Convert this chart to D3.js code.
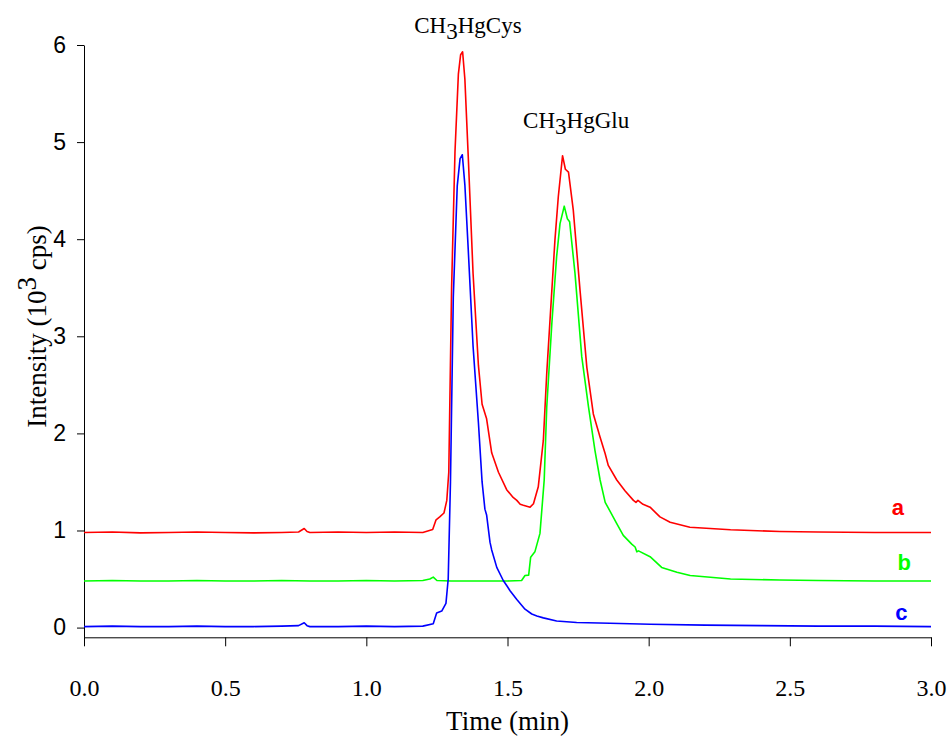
<!DOCTYPE html>
<html>
<head>
<meta charset="utf-8">
<script src="https://cdn.jsdelivr.net/npm/d3@7/dist/d3.min.js"></script>
<style>
  body { margin: 0; background: #fff; }
  .axis path, .axis line { stroke: #000; stroke-width: 1; }
  .xaxis text { font-family: "Liberation Serif", "Times New Roman", serif; font-size: 24px; fill: #000; }
  .yaxis text { font-family: "Liberation Sans", Arial, sans-serif; font-size: 23px; fill: #000; }
  .title { font-family: "Liberation Serif", "Times New Roman", serif; font-size: 27px; fill: #000; }
  .peak { font-family: "Liberation Serif", "Times New Roman", serif; font-size: 23px; fill: #000; }
  .tag { font-family: "Liberation Sans", Arial, sans-serif; font-size: 22px; font-weight: bold; }
</style>
</head>
<body>
<div id="chart"></div>
<script>
// chromatogram traces, [time (min), intensity (10^3 cps)]
var traceA = [[0,0.98],[0.1,0.985],[0.2,0.975],[0.3,0.98],[0.4,0.985],[0.5,0.98],[0.6,0.975],[0.7,0.98],
  [0.76,0.985],[0.78,1.02],[0.79,0.99],[0.8,0.98],[0.9,0.985],[1.0,0.98],[1.1,0.985],[1.2,0.98],
  [1.235,1.01],[1.247,1.11],[1.26,1.14],[1.275,1.18],[1.285,1.31],[1.292,1.6],[1.302,3.5],[1.314,4.9],
  [1.326,5.7],[1.334,5.9],[1.341,5.93],[1.349,5.65],[1.361,4.85],[1.378,3.65],[1.397,2.7],[1.41,2.3],
  [1.426,2.15],[1.444,1.8],[1.468,1.6],[1.497,1.42],[1.52,1.34],[1.533,1.31],[1.545,1.27],[1.556,1.26],
  [1.58,1.24],[1.592,1.275],[1.609,1.45],[1.627,1.93],[1.639,2.62],[1.657,3.47],[1.668,3.99],[1.68,4.44],
  [1.695,4.86],[1.705,4.72],[1.716,4.69],[1.733,4.3],[1.757,3.47],[1.781,2.68],[1.804,2.2],[1.828,1.96],
  [1.846,1.79],[1.857,1.67],[1.887,1.52],[1.916,1.41],[1.946,1.31],[1.955,1.29],[1.962,1.31],[1.98,1.27],
  [2.005,1.24],[2.04,1.14],[2.076,1.085],[2.146,1.034],[2.29,1.007],[2.465,0.99],[2.6,0.985],[2.8,0.98],[3.0,0.98]];

var traceB = [[0,0.48],[0.1,0.485],[0.2,0.48],[0.3,0.48],[0.4,0.485],[0.5,0.48],[0.6,0.48],[0.7,0.485],
  [0.8,0.48],[0.9,0.48],[1.0,0.485],[1.1,0.48],[1.2,0.485],[1.225,0.5],[1.237,0.52],[1.25,0.485],
  [1.3,0.48],[1.4,0.48],[1.5,0.48],[1.55,0.485],[1.562,0.536],[1.575,0.54],[1.582,0.725],[1.597,0.78],
  [1.615,0.97],[1.63,1.52],[1.639,2.27],[1.657,3.13],[1.674,3.82],[1.686,4.16],[1.701,4.34],[1.712,4.21],
  [1.72,4.18],[1.739,3.65],[1.763,2.79],[1.787,2.27],[1.81,1.82],[1.828,1.52],[1.846,1.29],[1.863,1.2],
  [1.887,1.07],[1.91,0.95],[1.94,0.86],[1.952,0.83],[1.958,0.78],[1.964,0.79],[2.005,0.73],[2.046,0.62],
  [2.1,0.57],[2.147,0.536],[2.29,0.5],[2.465,0.49],[2.6,0.485],[2.8,0.48],[3.0,0.48]];

var traceC = [[0,0.01],[0.1,0.015],[0.2,0.01],[0.3,0.01],[0.4,0.015],[0.5,0.01],[0.6,0.01],[0.7,0.015],
  [0.76,0.02],[0.78,0.05],[0.79,0.02],[0.8,0.01],[0.9,0.01],[1.0,0.015],[1.1,0.01],[1.2,0.015],
  [1.237,0.04],[1.249,0.15],[1.267,0.17],[1.282,0.25],[1.29,0.5],[1.298,1.5],[1.308,3.4],[1.322,4.55],
  [1.332,4.83],[1.34,4.87],[1.349,4.56],[1.361,3.89],[1.378,2.9],[1.397,2.11],[1.41,1.5],[1.42,1.22],
  [1.426,1.16],[1.438,0.88],[1.444,0.8],[1.462,0.62],[1.485,0.485],[1.5,0.42],[1.509,0.38],[1.533,0.29],
  [1.562,0.19],[1.586,0.14],[1.604,0.12],[1.627,0.1],[1.674,0.068],[1.745,0.053],[1.863,0.045],[2.005,0.035],
  [2.2,0.025],[2.4,0.02],[2.6,0.015],[2.8,0.015],[3.0,0.01]];

var xTicks = [0, 0.5, 1.0, 1.5, 2.0, 2.5, 3.0];
var yTicks = [0, 1, 2, 3, 4, 5, 6];

var traces = [
  {name: "a", values: traceA, color: "#ff0000", tagAt: [2.883, 1.16]},
  {name: "b", values: traceB, color: "#00ff00", tagAt: [2.905, 0.59]},
  {name: "c", values: traceC, color: "#0000ff", tagAt: [2.895, 0.075]}
];

// set the dimensions and margins of the graph
var margin = {top: 45, right: 19, bottom: 99, left: 84},
    width = 950 - margin.left - margin.right,
    height = 736 - margin.top - margin.bottom;

var svg = d3.select("#chart")
  .append("svg")
    .attr("width", 950)
    .attr("height", 736)
  .append("g")
    .attr("transform", "translate(" + margin.left + "," + margin.top + ")");

var x = d3.scaleLinear()
  .domain([0, 3])
  .range([0, width]);

var y = d3.scaleLinear()
  .domain([-0.1, 6])
  .range([height + 0.3, 0]);

// X axis
svg.append("g")
  .attr("class", "axis xaxis")
  .attr("transform", "translate(0," + y(-0.1) + ")")
  .call(d3.axisBottom(x).tickValues(xTicks).tickFormat(d3.format(".1f"))
    .tickSize(9).tickSizeOuter(0).tickPadding(33));

// Y axis
svg.append("g")
  .attr("class", "axis yaxis")
  .call(d3.axisLeft(y).tickValues(yTicks).tickFormat(d3.format("d"))
    .tickSize(7).tickSizeOuter(0).tickPadding(11));

// traces
var line = d3.line()
  .x(function(d) { return x(d[0]); })
  .y(function(d) { return y(d[1]); });

svg.selectAll(".trace")
  .data(traces)
  .enter()
  .append("path")
    .attr("class", "trace")
    .attr("fill", "none")
    .attr("stroke", function(d) { return d.color; })
    .attr("stroke-width", 1.6)
    .attr("stroke-linejoin", "round")
    .attr("d", function(d) { return line(d.values); });

// trace tags a, b, c
svg.selectAll(".tag")
  .data(traces)
  .enter()
  .append("text")
    .attr("class", "tag")
    .attr("x", function(d) { return x(d.tagAt[0]); })
    .attr("y", function(d) { return y(d.tagAt[1]); })
    .attr("text-anchor", "middle")
    .attr("fill", function(d) { return d.color; })
    .text(function(d) { return d.name; });

// peak labels
function peakLabel(t, v, tail) {
  var txt = svg.append("text")
    .attr("class", "peak")
    .attr("x", x(t))
    .attr("y", y(v))
    .attr("text-anchor", "middle");
  txt.append("tspan").text("CH");
  txt.append("tspan").attr("dy", 6).text("3");
  txt.append("tspan").attr("dy", -6).text(tail);
}
peakLabel(1.36, 6.12, "HgCys");
peakLabel(1.743, 5.15, "HgGlu");

// axis titles
svg.append("text")
  .attr("class", "title")
  .attr("text-anchor", "middle")
  .attr("x", width / 2)
  .attr("y", height + 93)
  .text("Time (min)");

var yt = svg.append("text")
  .attr("class", "title")
  .attr("text-anchor", "middle")
  .attr("transform", "translate(-38," + y(3.1) + ") rotate(-90)");
yt.append("tspan").text("Intensity (10");
yt.append("tspan").attr("dy", -10).text("3");
yt.append("tspan").attr("dy", 10).text(" cps)");
</script>
</body>
</html>
